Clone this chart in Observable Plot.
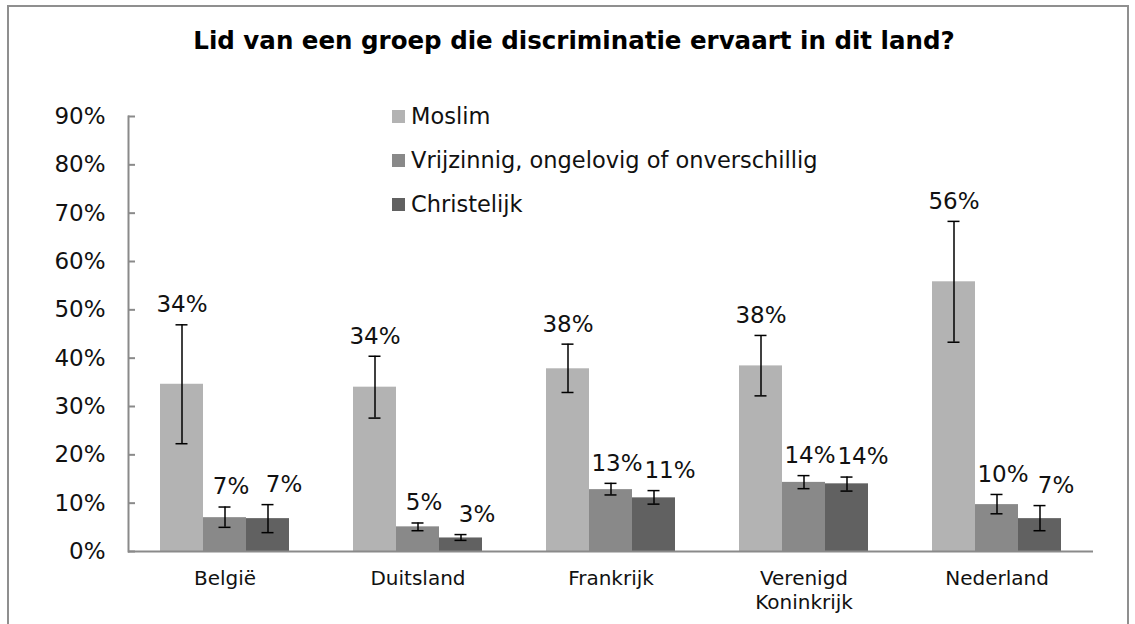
<!DOCTYPE html>
<html>
<head>
<meta charset="utf-8">
<script src="https://cdn.jsdelivr.net/npm/d3@7"></script>
<script src="https://cdn.jsdelivr.net/npm/@observablehq/plot@0.6"></script>
<style>
  html, body { margin: 0; padding: 0; background: #fff; }
  #wrap { position: relative; width: 1135px; height: 624px; overflow: hidden; background: #fff; font-family: "DejaVu Sans", Verdana, sans-serif; }
  #border { position: absolute; left: 7px; top: 5px; width: 1122px; height: 700px; border: 2px solid #8f8f8f; box-sizing: border-box; }
  #title { position: absolute; left: 0; width: 1148px; top: 26px; text-align: center; font-weight: bold; font-size: 24.5px; color: #000; white-space: nowrap; }
  #chart { position: absolute; left: 0; top: 0; }
  #legend { position: absolute; left: 392px; top: 94px; }
  .row { height: 44px; display: flex; align-items: center; font-size: 22.5px; color: #111; white-space: nowrap; }
  .sw { width: 13px; height: 13px; margin-right: 6px; }
</style>
</head>
<body>
<div id="wrap">
  <div id="border"></div>
  <div id="chart"></div>
  <div id="title">Lid van een groep die discriminatie ervaart in dit land?</div>
  <div id="legend"></div>
</div>
<script>
const countries = ["België", "Duitsland", "Frankrijk", "Verenigd\nKoninkrijk", "Nederland"];
const series = ["Moslim", "Vrijzinnig, ongelovig of onverschillig", "Christelijk"];
const colors = ["#b3b3b3", "#898989", "#616161"];

const moslim       = [34.6, 34.0, 37.8, 38.4, 55.8];
const moslimLo     = [22.3, 27.6, 32.9, 32.2, 43.3];
const moslimHi     = [46.9, 40.4, 42.9, 44.7, 68.3];
const moslimLabels = ["34%", "34%", "38%", "38%", "56%"];

const vrij         = [7.0, 5.1, 12.8, 14.3, 9.7];
const vrijLo       = [5.0, 4.3, 11.7, 13.0, 7.8];
const vrijHi       = [9.2, 5.9, 14.1, 15.7, 11.8];
const vrijLabels   = ["7%", "5%", "13%", "14%", "10%"];

const christ       = [6.8, 2.8, 11.1, 14.0, 6.8];
const christLo     = [3.9, 2.3, 9.8, 12.5, 4.3];
const christHi     = [9.7, 3.5, 12.6, 15.4, 9.5];
const christLabels = ["7%", "3%", "11%", "14%", "7%"];

const yTicks = [0, 10, 20, 30, 40, 50, 60, 70, 80, 90];

const seriesData = [
  [moslim, moslimLo, moslimHi, moslimLabels],
  [vrij, vrijLo, vrijHi, vrijLabels],
  [christ, christLo, christHi, christLabels]
];
const rows = countries.flatMap((c, i) => series.map((s, j) => ({
  country: c, series: s,
  value: seriesData[j][0][i], lo: seriesData[j][1][i], hi: seriesData[j][2][i], label: seriesData[j][3][i]
})));

const axisGray = "#8a8a8a";
const labelShift = { [series[0]]: 0, [series[1]]: 6, [series[2]]: 16 };

const chart = Plot.plot({
  width: 1135, height: 624,
  marginLeft: 128, marginRight: 42, marginTop: 116, marginBottom: 73,
  style: { fontFamily: "DejaVu Sans, Verdana, sans-serif", background: "transparent", color: "#111" },
  fx: { domain: countries, padding: 0, label: null },
  x: { domain: series, paddingInner: 0, paddingOuter: 0.744, axis: null },
  y: { domain: [0, 90], label: null },
  color: { domain: series, range: colors },
  marks: [
    Plot.barY(rows, { fx: "country", x: "series", y: "value", fill: "series" }),
    Plot.ruleY([0], { stroke: axisGray, strokeWidth: 2 }),
    Plot.frame({ anchor: "left", facetAnchor: "left", stroke: axisGray, strokeWidth: 2 }),
    Plot.ruleX(rows, { fx: "country", x: "series", y1: "lo", y2: "hi", stroke: "#000", strokeWidth: 1.5 }),
    Plot.tickY(rows, { fx: "country", x: "series", y: "lo", insetLeft: 15.5, insetRight: 15.5, stroke: "#000", strokeWidth: 1.5 }),
    Plot.tickY(rows, { fx: "country", x: "series", y: "hi", insetLeft: 15.5, insetRight: 15.5, stroke: "#000", strokeWidth: 1.5 }),
    ...series.map(s => Plot.text(rows.filter(d => d.series === s), {
      fx: "country", x: "series", y: "hi", text: "label", dy: -20, dx: labelShift[s], fontSize: 23, fill: "#111"
    })),
    Plot.axisY({ ticks: yTicks, tickFormat: d => d + "%", tickSize: -7, tickPadding: 30, fontSize: 23, stroke: axisGray, strokeWidth: 2, label: null, fill: "#111" }),
    Plot.axisFx({ anchor: "bottom", tickSize: 0, tickPadding: 17, fontSize: 20, lineHeight: 1.17, label: null, fill: "#111" })
  ]
});
document.getElementById("chart").appendChild(chart);

const legend = document.getElementById("legend");
series.forEach((s, i) => {
  const row = document.createElement("div");
  row.className = "row";
  const sw = document.createElement("div");
  sw.className = "sw";
  sw.style.background = colors[i];
  const t = document.createElement("span");
  t.textContent = s;
  row.appendChild(sw);
  row.appendChild(t);
  legend.appendChild(row);
});
</script>
</body>
</html>
